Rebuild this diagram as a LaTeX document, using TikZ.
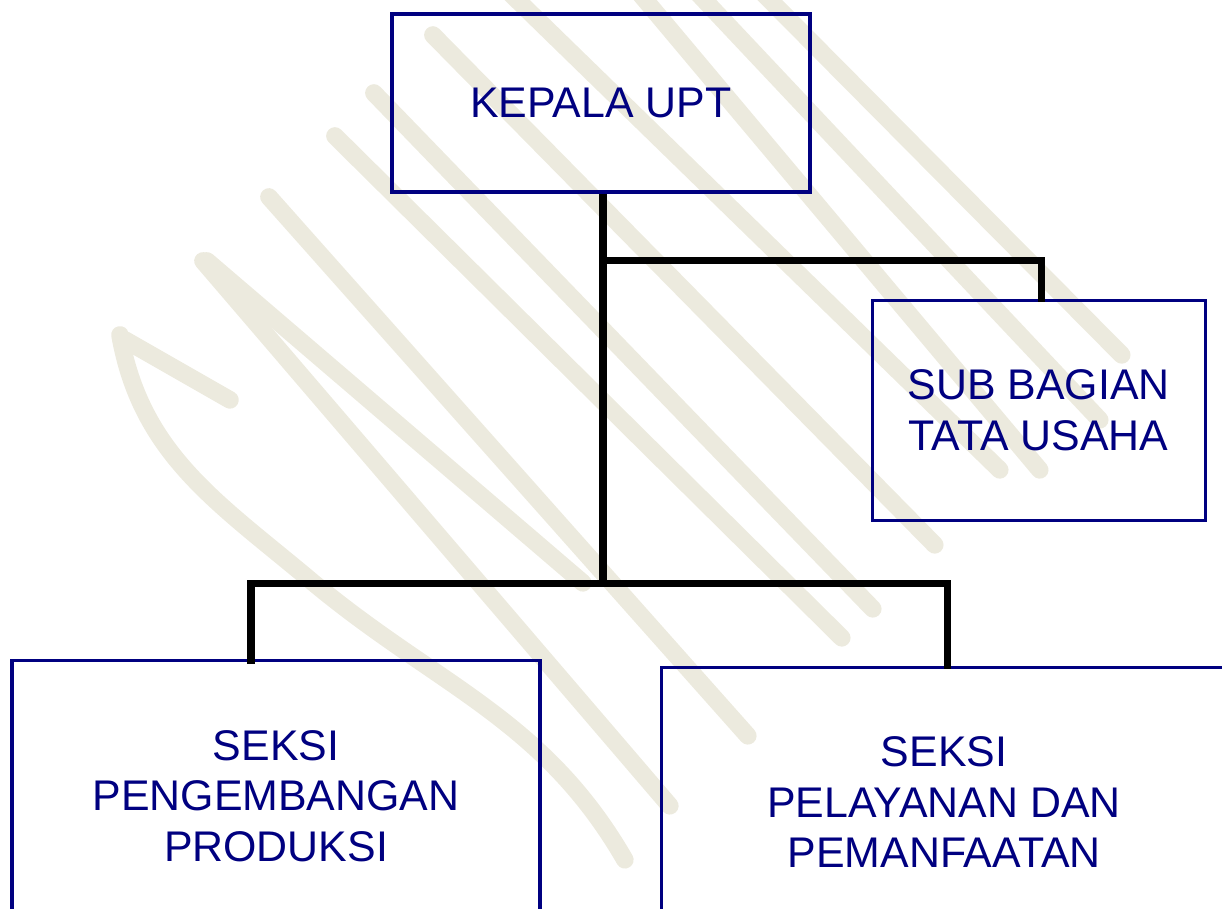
\documentclass[tikz,border=0pt]{standalone}
\usepackage{fontspec}
\setmainfont{Liberation Sans}
\usepackage{xcolor}
\usepackage{tikz}
\usetikzlibrary{positioning,calc}

\definecolor{navyline}{RGB}{0,0,128}
\definecolor{wmark}{RGB}{236,234,222}

\begin{document}
\begin{tikzpicture}[node distance=3cm, auto,
    orgbox/.style={rectangle, draw=navyline, line width=2.2pt, text=navyline, align=center,
        font=\fontsize{30.5}{36}\selectfont},
    orgline/.style={draw=black, line width=5pt},
    wmarkline/.style={draw=wmark, line width=0.44cm, line cap=round}]
    \useasboundingbox (0,0) rectangle (30.55,-22.725);
    \clip (0,0) rectangle (30.55,-22.725);

    % Watermark strokes in the background
    \begin{scope}[x=0.025cm, y=-0.025cm]
        \draw [wmarkline] (433,35) -- (935,545);
        \draw [wmarkline] (374,93) -- (873,609);
        \draw [wmarkline] (335,136) -- (842,638);
        \draw [wmarkline] (269,197) -- (748,736);
        \draw [wmarkline] (203,261) -- (670,806);
        \draw [wmarkline] (207,261) -- (583,583);
        \draw [wmarkline] (507,-10) -- (1000,470);
        \draw [wmarkline] (637,-10) -- (1040,470);
        \draw [wmarkline] (695,-10) -- (1100,420);
        \draw [wmarkline] (760,-10) -- (1122,355);
        \draw [wmarkline] (120,335) to[out=-80,in=140] (310,580) to[out=-40,in=120] (625,860);
        \draw [wmarkline] (125,340) -- (230,400);
    \end{scope}

    % Kepala UPT - top center
    \node [orgbox, minimum width=10.45cm, minimum height=4.45cm] (kepala) at (15.025,-2.575) {KEPALA UPT};

    % Sub bagian tata usaha - right
    \node [orgbox, minimum width=8.325cm, minimum height=5.5cm, below=2.625cm of kepala, xshift=10.94cm] (sub) {SUB BAGIAN\\TATA USAHA};

    % Seksi pengembangan produksi - bottom left
    \node [orgbox, minimum width=13.2cm, minimum height=6.8cm, below=11.625cm of kepala, xshift=-8.125cm] (produksi) {SEKSI\\PENGEMBANGAN\\PRODUKSI};

    % Seksi pelayanan dan pemanfaatan - bottom right
    \node [orgbox, minimum width=14.15cm, minimum height=6.75cm, right=2.95cm of produksi, yshift=-0.15cm] (pelayanan) {SEKSI\\PELAYANAN DAN\\PEMANFAATAN};

    % Connectors
    \coordinate (tujoin) at ($(kepala.south)+(0.05,-1.675)$);
    \coordinate (lowjoin) at ($(kepala.south)+(0.05,-9.75)$);
    \draw [orgline] ($(kepala.south)+(0.05,0)$) -- (lowjoin);
    \draw [orgline] (tujoin) -| ($(sub.north)+(0.06,-0.08)$);
    \draw [orgline] ($(produksi.north)+(-0.625,-0.125)$) |- (lowjoin) -| ($(pelayanan.north)+(0.075,-0.075)$);

\end{tikzpicture}
\end{document}
